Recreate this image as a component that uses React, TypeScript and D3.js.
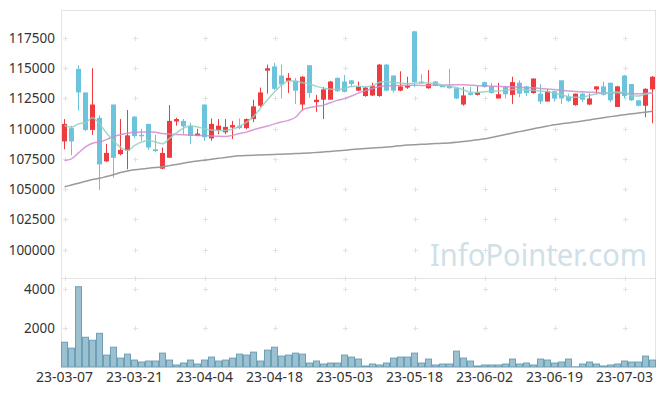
import React from 'react';
import * as d3 from 'd3';

// trading days (yy-mm-dd)
const dates = [
  '23-03-07', '23-03-08', '23-03-09', '23-03-10', '23-03-13', '23-03-14', '23-03-15', '23-03-16', '23-03-17', '23-03-20',
  '23-03-21', '23-03-22', '23-03-23', '23-03-24', '23-03-27', '23-03-28', '23-03-29', '23-03-30', '23-03-31', '23-04-03',
  '23-04-04', '23-04-05', '23-04-06', '23-04-07', '23-04-10', '23-04-11', '23-04-12', '23-04-13', '23-04-14', '23-04-17',
  '23-04-18', '23-04-19', '23-04-20', '23-04-21', '23-04-24', '23-04-25', '23-04-26', '23-04-27', '23-04-28', '23-05-02',
  '23-05-03', '23-05-04', '23-05-08', '23-05-09', '23-05-10', '23-05-11', '23-05-12', '23-05-15', '23-05-16', '23-05-17',
  '23-05-18', '23-05-19', '23-05-22', '23-05-23', '23-05-24', '23-05-25', '23-05-26', '23-05-30', '23-05-31', '23-06-01',
  '23-06-02', '23-06-05', '23-06-07', '23-06-08', '23-06-09', '23-06-12', '23-06-13', '23-06-14', '23-06-15', '23-06-16',
  '23-06-19', '23-06-20', '23-06-21', '23-06-22', '23-06-23', '23-06-26', '23-06-27', '23-06-28', '23-06-29', '23-06-30',
  '23-07-03', '23-07-04', '23-07-05', '23-07-06', '23-07-07',
];

const opens = [
  108950, 110050, 114950, 113000, 109900, 110900, 107300, 112000, 107900, 108200,
  111000, 109500, 110400, 108300, 106700, 107600, 110600, 110650, 110250, 109400,
  112000, 109200, 109900, 109700, 110100, 110250, 110050, 110800, 111900, 114800,
  115150, 114400, 113950, 113950, 112000, 115250, 112200, 112400, 112400, 114200,
  113900, 114000, 113150, 112700, 112750, 112700, 115300, 114400, 113150, 113400,
  118050, 113900, 113350, 113900, 113550, 113550, 113350, 112000, 112950, 112800,
  113850, 113500, 112500, 113450, 112800, 113800, 113500, 112950, 112900, 112250,
  113100, 114000, 112650, 111950, 112900, 112000, 113250, 113500, 113800, 111800,
  114400, 113700, 112350, 111900, 113250,
];
const highs = [
  110800, 110250, 115250, 113000, 115000, 111100, 108750, 112000, 110800, 111550,
  111050, 110000, 110400, 109500, 108450, 111950, 110900, 110800, 110500, 110000,
  112000, 110850, 110800, 110800, 110650, 110850, 110850, 112400, 113400, 115300,
  115450, 115300, 114600, 114200, 114350, 115250, 112800, 113450, 113950, 114250,
  114450, 114000, 113900, 113500, 113800, 115350, 115350, 114400, 114750, 114300,
  118100, 114500, 114850, 113950, 113600, 114950, 113400, 113450, 113450, 113500,
  113900, 113800, 113800, 113550, 114300, 114000, 113550, 114150, 113700, 113250,
  113150, 114000, 112900, 112900, 113000, 112900, 113500, 113900, 113800, 113550,
  114450, 113700, 112350, 113350, 114350,
];
const lows = [
  108300, 107800, 111500, 109800, 109500, 104950, 107250, 105950, 107800, 106650,
  109200, 109000, 108250, 108050, 106650, 107600, 110250, 109550, 108750, 109400,
  109000, 109000, 109550, 109550, 109150, 109950, 109950, 110550, 111800, 112900,
  113200, 112500, 112950, 112050, 111500, 112550, 111400, 110800, 112400, 113050,
  113000, 113450, 113100, 112650, 112700, 112650, 113100, 113000, 113100, 113300,
  113450, 113700, 113300, 113500, 113450, 113300, 112450, 111900, 112750, 112750,
  113400, 112900, 112500, 112500, 112050, 112600, 112700, 112900, 112050, 112250,
  112250, 112050, 112200, 111900, 112200, 111950, 112850, 112750, 112200, 111800,
  112500, 112300, 111850, 110950, 110450,
];
const closes = [
  110400, 108950, 113000, 109900, 112000, 107050, 108000, 107600, 108250, 109450,
  109400, 109400, 108450, 108150, 108000, 110650, 110800, 110200, 109400, 109600,
  109300, 110400, 110250, 110150, 110300, 110050, 110800, 111850, 113000, 115000,
  113300, 113650, 114200, 113150, 114300, 112950, 112400, 113250, 113900, 113100,
  113050, 113700, 113450, 113400, 113550, 115300, 113150, 113150, 113500, 113550,
  113850, 113750, 113700, 113600, 113500, 113350, 112500, 112750, 112800, 113000,
  113450, 112950, 112850, 112850, 113850, 112900, 112950, 114150, 112250, 113100,
  112500, 112500, 112300, 112900, 112400, 112500, 113500, 112800, 112350, 113500,
  112700, 112350, 111900, 113300, 114300,
];
const volumes = [
  1275, 969, 4131, 1530, 1377, 1734, 612, 1020, 459, 663,
  357, 255, 306, 306, 714, 357, 102, 204, 357, 153,
  357, 510, 306, 357, 459, 663, 612, 765, 306, 867,
  1020, 561, 612, 714, 663, 204, 306, 153, 204, 204,
  612, 510, 408, 51, 153, 102, 204, 459, 510, 510,
  714, 204, 408, 102, 153, 153, 816, 459, 306, 51,
  102, 102, 102, 153, 408, 153, 204, 102, 408, 357,
  204, 255, 408, 10, 153, 255, 153, 51, 102, 153,
  306, 255, 255, 561, 357,
];

// moving averages
const ma5 = [
  110270, 110130, 110400, 110500, 110900, 110400, 109650, 109000, 108450, 108200,
  108600, 108900, 109030, 108900, 108750, 109200, 109650, 110050, 110220, 110150,
  110000, 109900, 109860, 109860, 109950, 110200, 110550, 111000, 111700, 112400,
  113040, 113600, 113950, 113950, 113800, 113700, 113500, 113350, 113280, 113240,
  113330, 113500, 113520, 113460, 113550, 113850, 113900, 113830, 113780, 113740,
  113760, 113800, 113790, 113740, 113620, 113500, 113400, 113200, 113020, 112990,
  113050, 113120, 113120, 113200, 113250, 113250, 113200, 113180, 113120, 113080,
  112950, 112800, 112650, 112600, 112620, 112750, 112900, 112950, 113000, 113040,
  113020, 112750, 112700, 112850, 112960,
];
const ma20 = [
  107370, 107510, 108000, 108500, 108800, 108900, 109100, 109350, 109500, 109620,
  109700, 109720, 109740, 109700, 109600, 109570, 109530, 109500, 109480, 109450,
  109430, 109400, 109370, 109360, 109450, 109600, 109720, 109920, 110080, 110220,
  110400, 110560, 110690, 110950, 111550, 111750, 111850, 111950, 112150, 112350,
  112490, 112700, 112950, 113150, 113330, 113500, 113540, 113560, 113580, 113600,
  113600, 113580, 113580, 113600, 113600, 113620, 113640, 113640, 113600, 113560,
  113540, 113520, 113500, 113480, 113460, 113430, 113400, 113380, 113330, 113280,
  113240, 113170, 113110, 113080, 113050, 113020, 113000, 112960, 112950, 112950,
  112930, 112900, 112900, 112930, 112960,
];
const ma60 = [
  105200, 105350, 105500, 105650, 105800, 105900, 106050, 106200, 106380, 106500,
  106600, 106680, 106740, 106790, 106850, 106950, 107050, 107150, 107250, 107330,
  107400, 107480, 107550, 107620, 107700, 107760, 107790, 107810, 107830, 107850,
  107870, 107900, 107920, 107950, 107970, 108000, 108040, 108080, 108120, 108170,
  108220, 108280, 108330, 108370, 108400, 108440, 108480, 108540, 108600, 108650,
  108680, 108710, 108740, 108770, 108800, 108830, 108880, 108940, 109010, 109090,
  109170, 109280, 109400, 109520, 109640, 109760, 109880, 110000, 110110, 110220,
  110330, 110410, 110480, 110560, 110640, 110730, 110820, 110910, 111000, 111080,
  111160, 111230, 111300, 111370, 111440,
];

const priceTicks = [100000, 102500, 105000, 107500, 110000, 112500, 115000, 117500];
const volumeTicks = [2000, 4000];

const W = 665;
const H = 396;
const left = 61;
const right = 656;
const top = 10;
const split = 278;
const bottom = 367;

const UP = '#ee3b3f';
const DOWN = '#6cc3dc';
const FONT = '"Noto Sans", "DejaVu Sans", sans-serif';

export default function App() {
  const x = d3.scaleBand<string>().domain(dates).range([left, right]).padding(0);
  const yP = d3.scaleLinear().domain([97660, 119815]).range([split, top]);
  const yV = d3.scaleLinear().domain([0, 4580]).range([bottom, split]);
  const bw = x.bandwidth();
  const cx = (i: number) => (x(dates[i]) as number) + bw / 2;

  const line = (vals: number[]) =>
    d3.line<number>()
      .x((_, i) => cx(i))
      .y(d => yP(d))
      .curve(d3.curveMonotoneX)(vals) || '';

  const xTickIdx = dates.map((_, i) => i).filter(i => i % 10 === 0);
  const gridYs = [...priceTicks.map(v => yP(v)), split, ...volumeTicks.map(v => yV(v))];

  return (
    <div style={{ position: 'fixed', left: 0, top: 0 }}>
      <svg width={W} height={H} style={{ display: 'block', background: '#fff' }}>
        {/* frame */}
        <g stroke="#e3e3e3" strokeWidth={1} fill="none">
          <line x1={left + 0.5} x2={left + 0.5} y1={top} y2={bottom} />
          <line x1={right - 0.5} x2={right - 0.5} y1={top} y2={bottom} />
          <line x1={left} x2={right} y1={top + 0.5} y2={top + 0.5} />
          <line x1={left} x2={right} y1={split + 0.5} y2={split + 0.5} />
        </g>

        {/* plus-shaped grid marks */}
        <g stroke="#e2e2e2" strokeWidth={1}>
          {xTickIdx.map(i =>
            gridYs.map((gy, k) => (
              <g key={`${i}-${k}`}>
                <line x1={Math.round(cx(i)) - 2} x2={Math.round(cx(i)) + 3} y1={Math.round(gy) + 0.5} y2={Math.round(gy) + 0.5} />
                <line x1={Math.round(cx(i)) + 0.5} x2={Math.round(cx(i)) + 0.5} y1={Math.round(gy) - 2} y2={Math.round(gy) + 3} />
              </g>
            ))
          )}
        </g>

        {/* watermark */}
        <text x={430} y={266} fontFamily={FONT} fontSize={31} fill="#cfe0e9"
          textLength={217} lengthAdjust="spacingAndGlyphs">
          InfoPointer.com
        </text>

        {/* volume */}
        <g>
          {volumes.map((v, i) => (
            <rect key={i} x={(x(dates[i]) as number) + 0.5} y={yV(v)} width={bw - 1}
              height={Math.max(0, bottom - yV(v))} fill="#9bc1d1" stroke="#6d9fb6" strokeWidth={1} />
          ))}
        </g>

        {/* candles */}
        <g>
          {dates.map((d, i) => {
            const up = closes[i] >= opens[i];
            const c = up ? UP : DOWN;
            const yt = yP(Math.max(opens[i], closes[i]));
            const yb = yP(Math.min(opens[i], closes[i]));
            const xc = cx(i);
            return (
              <g key={d}>
                <line x1={xc} x2={xc} y1={yP(highs[i])} y2={yP(lows[i])} stroke={c} strokeWidth={1} />
                <rect x={xc - 2.5} y={yt} width={5} height={Math.max(1.5, yb - yt)} fill={c} />
              </g>
            );
          })}
        </g>

        {/* moving averages */}
        <path d={line(ma60)} fill="none" stroke="#9a9a9a" strokeWidth={1.5} />
        <path d={line(ma20)} fill="none" stroke="#cf8ccf" strokeWidth={1.5} strokeOpacity={0.85} />
        <path d={line(ma5)} fill="none" stroke="#8fd1c2" strokeWidth={1.5} strokeOpacity={0.85} />

        {/* axes labels */}
        <g fontFamily={FONT} fill="#333">
          {priceTicks.map(v => (
            <text key={v} x={55} y={yP(v)} dy="0.36em" fontSize={13.5} textAnchor="end">{v}</text>
          ))}
          {volumeTicks.map(v => (
            <text key={v} x={55} y={yV(v)} dy="0.36em" fontSize={13.5} textAnchor="end">{v}</text>
          ))}
          {xTickIdx.map(i => (
            <text key={i} x={cx(i)} y={381.5} fontSize={14} textAnchor="middle">{dates[i]}</text>
          ))}
        </g>
      </svg>
    </div>
  );
}
